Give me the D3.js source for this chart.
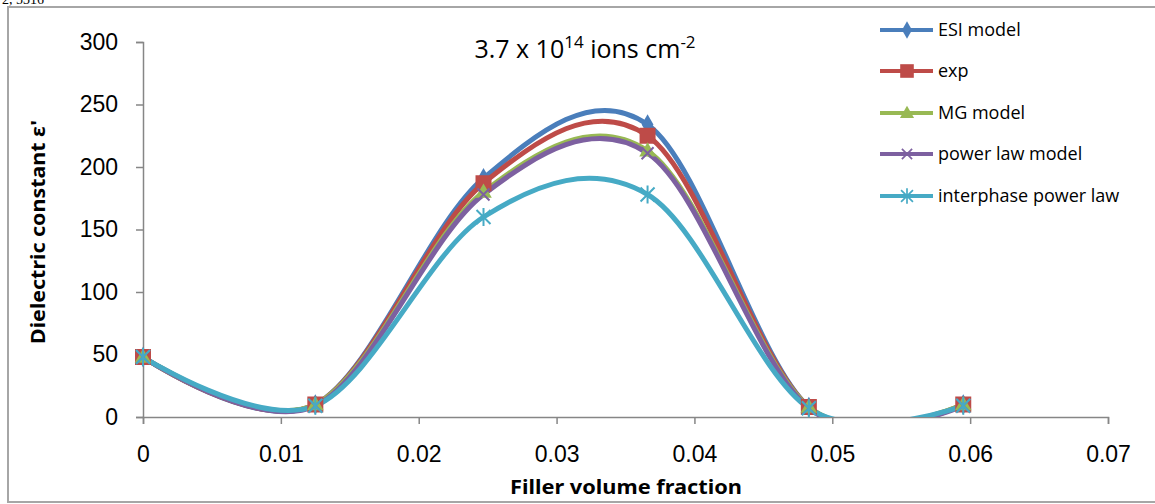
<!DOCTYPE html>
<html>
<head>
<meta charset="utf-8">
<script src="https://cdn.jsdelivr.net/npm/d3@7"></script>
<style>
  body { margin: 0; background: #fff; }
  svg { display: block; }
</style>
</head>
<body>
<div id="chart"></div>
<script>
// data
const fractions = [0, 0.0125, 0.0247, 0.0366, 0.0483, 0.0595]
const esiModel = [48, 10, 191, 234, 8, 10]
const expValues = [48, 10, 187, 225, 8, 10]
const mgModel = [48, 10, 180, 213, 8, 10]
const powerLaw = [48, 9, 178, 211, 7, 9]
const interphase = [48, 9, 160, 178, 7, 9]
const seriesNames = ["ESI model", "exp", "MG model", "power law model", "interphase power law"]
const xTicks = [0, 0.01, 0.02, 0.03, 0.04, 0.05, 0.06, 0.07]
const yTicks = [0, 50, 100, 150, 200, 250, 300]

const seriesList = [
  { name: seriesNames[0], values: esiModel, color: "#4a7ebb", marker: "diamond" },
  { name: seriesNames[1], values: expValues, color: "#be4b48", marker: "square" },
  { name: seriesNames[2], values: mgModel, color: "#98b954", marker: "triangle" },
  { name: seriesNames[3], values: powerLaw, color: "#7d60a0", marker: "x" },
  { name: seriesNames[4], values: interphase, color: "#46aac5", marker: "star" }
]

const width = 1155, height = 504
const svg = d3.select("#chart").append("svg")
  .attr("width", width).attr("height", height)

// caption cut off at very top (as in the source image)
svg.append("text").attr("x", 2).attr("y", 4)
  .style("font-family", "'Liberation Serif', serif").style("font-size", "14px")
  .text("2, 5316")

// outer frame
svg.append("rect")
  .attr("x", 8).attr("y", 7).attr("width", 1160).attr("height", 495)
  .attr("fill", "none").attr("stroke", "#a6a6a6").attr("stroke-width", 2)

const x = d3.scaleLinear().domain([0, 0.07]).range([143, 1108])
const y = d3.scaleLinear().domain([0, 300]).range([417, 42])

const axisColor = "#868686"

// y axis
const yAxis = svg.append("g")
  .attr("transform", `translate(${x(0)},0)`)
  .call(d3.axisLeft(y).tickValues(yTicks).tickSize(7).tickPadding(18))
yAxis.select(".domain").attr("stroke", axisColor).attr("stroke-width", 1.5)
yAxis.selectAll(".tick line").attr("stroke", axisColor).attr("stroke-width", 1.5)
yAxis.selectAll(".tick text")
  .style("font-family", "'Liberation Sans', Arial, sans-serif")
  .style("font-size", "23px").attr("fill", "#000")

// x axis
const xAxis = svg.append("g")
  .attr("transform", `translate(0,${y(0)})`)
  .call(d3.axisBottom(x).tickValues(xTicks).tickSize(7).tickPadding(22)
    .tickFormat(d => d === 0 ? "0" : d3.format(".2f")(d)))
xAxis.select(".domain").attr("stroke", axisColor).attr("stroke-width", 1.5)
xAxis.selectAll(".tick line").attr("stroke", axisColor).attr("stroke-width", 1.5)
xAxis.selectAll(".tick text")
  .style("font-family", "'Liberation Sans', Arial, sans-serif")
  .style("font-size", "23px").attr("fill", "#000")

// clip to plot area
svg.append("clipPath").attr("id", "plotClip")
  .append("rect").attr("x", x(0)).attr("y", 8)
  .attr("width", x(0.07) - x(0)).attr("height", y(0) - 8)

const line = d3.line()
  .x((d, i) => x(fractions[i]))
  .y(d => y(d))
  .curve(d3.curveCatmullRom.alpha(0))

const plot = svg.append("g").attr("clip-path", "url(#plotClip)")

seriesList.forEach(s => {
  plot.append("path")
    .attr("d", line(s.values))
    .attr("fill", "none")
    .attr("stroke", s.color)
    .attr("stroke-width", 5)
})

function drawMarker(g, type, cx, cy, color) {
  if (type === "diamond") {
    g.append("path").attr("d", d3.symbol(d3.symbolDiamond, 120)())
      .attr("transform", `translate(${cx},${cy})`).attr("fill", color)
  } else if (type === "square") {
    g.append("rect").attr("x", cx - 8).attr("y", cy - 8)
      .attr("width", 16).attr("height", 16).attr("fill", color)
  } else if (type === "triangle") {
    g.append("path").attr("d", d3.symbol(d3.symbolTriangle, 120)())
      .attr("transform", `translate(${cx},${cy + 1})`).attr("fill", color)
  } else if (type === "x") {
    g.append("path").attr("d", `M${cx - 6},${cy - 6}L${cx + 6},${cy + 6}M${cx - 6},${cy + 6}L${cx + 6},${cy - 6}`)
      .attr("stroke", color).attr("stroke-width", 2)
  } else if (type === "star") {
    g.append("path").attr("d", `M${cx - 7},${cy - 7}L${cx + 7},${cy + 7}M${cx - 7},${cy + 7}L${cx + 7},${cy - 7}M${cx},${cy - 9}L${cx},${cy + 9}`)
      .attr("stroke", color).attr("stroke-width", 2)
  }
}

const markers = svg.append("g")
seriesList.forEach(s => {
  s.values.forEach((v, i) => drawMarker(markers, s.marker, x(fractions[i]), y(v), s.color))
})

// titles
const title = svg.append("text")
  .attr("x", 585).attr("y", 58).attr("text-anchor", "middle")
  .style("font-family", "'Open Sans', 'Noto Sans', sans-serif").style("font-size", "25px")
title.append("tspan").text("3.7 x 10")
title.append("tspan").attr("dy", -10).style("font-size", "17px").text("14")
title.append("tspan").attr("dy", 10).text(" ions cm")
title.append("tspan").attr("dy", -10).style("font-size", "17px").text("-2")

svg.append("text")
  .attr("x", 626).attr("y", 494).attr("text-anchor", "middle")
  .style("font-family", "'Noto Sans', sans-serif").style("font-weight", "bold")
  .style("font-size", "19px").attr("textLength", 232).attr("lengthAdjust", "spacingAndGlyphs")
  .text("Filler volume fraction")

svg.append("text")
  .attr("transform", `translate(45,232) rotate(-90)`)
  .attr("text-anchor", "middle")
  .style("font-family", "'Noto Sans', sans-serif").style("font-weight", "bold")
  .style("font-size", "19px").attr("textLength", 224).attr("lengthAdjust", "spacingAndGlyphs")
  .text("Dielectric constant ε'")

// legend
const legendYs = [30, 71, 113, 154, 196]
const legend = svg.append("g")
seriesList.forEach((s, i) => {
  const ly = legendYs[i]
  legend.append("line").attr("x1", 880).attr("x2", 933).attr("y1", ly).attr("y2", ly)
    .attr("stroke", s.color).attr("stroke-width", 4)
  const lg = legend.append("g").attr("transform", `translate(907,${ly}) scale(0.85)`)
  drawMarker(lg, s.marker, 0, 0, s.color)
  legend.append("text").attr("x", 938).attr("y", ly).attr("dy", "0.35em")
    .style("font-family", "'Open Sans', 'Noto Sans', sans-serif").style("font-size", "18px")
    .text(s.name)
})
</script>
</body>
</html>
